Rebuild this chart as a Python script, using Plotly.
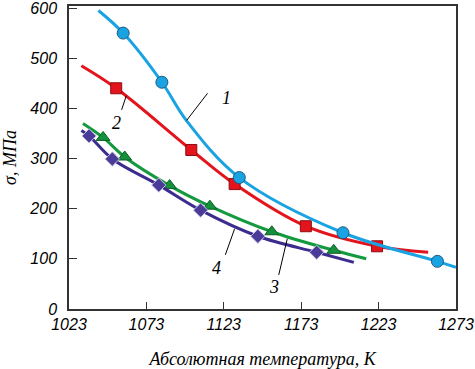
import plotly.graph_objects as go

# Curve 1 (blue circles)
c1_line_x = [1042, 1058, 1083, 1099, 1133, 1200, 1261, 1273]
c1_line_y = [595, 550, 452, 375, 262, 152, 95, 83]
c1_mark_x = [1058, 1083, 1133, 1200, 1261]
c1_mark_y = [550, 452, 262, 152, 95]

# Curve 2 (red squares)
c2_line_x = [1031, 1053.5, 1102, 1130, 1176, 1222, 1255]
c2_line_y = [485, 440, 317, 249, 165, 125, 113]
c2_mark_x = [1053.5, 1102, 1130, 1176, 1222]
c2_mark_y = [440, 317, 249, 165, 125]

# Curve 3 (green triangles)
c3_line_x = [1032, 1045, 1059, 1088, 1114, 1154, 1194, 1215]
c3_line_y = [370, 342, 303, 246, 205, 154, 117, 100]
c3_mark_x = [1045, 1059, 1088, 1114, 1154, 1194]
c3_mark_y = [342, 303, 246, 205, 154, 117]

# Curve 4 (purple diamonds)
c4_line_x = [1031, 1036, 1051, 1081, 1108, 1145, 1183, 1207]
c4_line_y = [356, 345, 299, 247, 197, 145, 113, 93]
c4_mark_x = [1036, 1051, 1081, 1108, 1145, 1183]
c4_mark_y = [345, 299, 247, 197, 145, 113]

x_ticks = [1023, 1073, 1123, 1173, 1223, 1273]
y_ticks = [0, 100, 200, 300, 400, 500, 600]

BLUE = "#1aa3e2"
RED = "#e3141b"
GREEN = "#149a3e"
PURPLE = "#3b2c8e"

fig = go.Figure()

def add_curve(lx, ly, mx, my, color, symbol, size, mfill, mline, mlw=1):
    fig.add_trace(go.Scatter(x=lx, y=ly, mode="lines",
                             line=dict(color=color, width=3, shape="spline", smoothing=1.0),
                             hoverinfo="skip", showlegend=False))
    fig.add_trace(go.Scatter(x=mx, y=my, mode="markers",
                             marker=dict(symbol=symbol, size=size, color=mfill,
                                         line=dict(color=mline, width=mlw)),
                             showlegend=False))

add_curve(c3_line_x, c3_line_y, c3_mark_x, c3_mark_y, GREEN, "triangle-up", 12, "#15913c", "#0c5e25")
add_curve(c4_line_x, c4_line_y, c4_mark_x, c4_mark_y, PURPLE, "diamond", 11, "#4a3b98", "#c8c4e0")
add_curve(c2_line_x, c2_line_y, c2_mark_x, c2_mark_y, RED, "square", 11, "#e3141b", "#8e0d12")
add_curve(c1_line_x, c1_line_y, c1_mark_x, c1_mark_y, BLUE, "circle", 12, "#1aa3e2", "#1d5a86")

label_font = dict(family="Liberation Serif", size=18, color="black")
labels = [("1", 1124.5, 421, 1099, 376, 1112.5, 430),
          ("2", 1054, 371, 1057, 397, 1060, 425),
          ("3", 1155.5, 44, 1158.5, 68, 1164, 140),
          ("4", 1118, 82, 1124, 108, 1130, 160)]
for txt, tx, ty, x0, y0, x1, y1 in labels:
    fig.add_shape(type="line", x0=x0, y0=y0, x1=x1, y1=y1,
                  line=dict(color="black", width=1), layer="above")
    fig.add_annotation(x=tx, y=ty, text="<i>" + txt + "</i>", showarrow=False, font=label_font)

tick_font = dict(family="Liberation Sans", size=16, color="black")
title_font = dict(family="Liberation Serif", size=18, color="black")

fig.update_xaxes(range=[1023, 1273], tickvals=x_ticks,
                 ticktext=["<i>" + str(v) + "</i>" for v in x_ticks],
                 ticks="inside", ticklen=7, tickcolor="#333", showline=True, linecolor="#333",
                 linewidth=1.5, mirror=True, showgrid=False, zeroline=False, tickfont=tick_font,
                 automargin=False, ticklabeloverflow="allow",
                 title=dict(text="<i>Абсолютная температура, К</i>", font=title_font, standoff=20))
fig.update_yaxes(range=[0, 604], tickvals=y_ticks,
                 ticktext=["<i>" + str(v) + "</i>" for v in y_ticks],
                 ticks="inside", ticklen=8, tickcolor="#333", showline=True, linecolor="#333",
                 linewidth=1.5, mirror=True, showgrid=False, zeroline=False, tickfont=tick_font,
                 automargin=False, ticklabelstandoff=7, ticklabeloverflow="allow",
                 title=dict(text="<i>σ, МПа</i>", font=title_font, standoff=14))

fig.update_layout(width=475, height=369, margin=dict(l=69, r=19, t=6, b=60),
                  plot_bgcolor="white", paper_bgcolor="white")

fig.write_html("out.html", config={"displayModeBar": False},
               post_script="document.body.style.margin='0';document.body.style.overflow='hidden';")
